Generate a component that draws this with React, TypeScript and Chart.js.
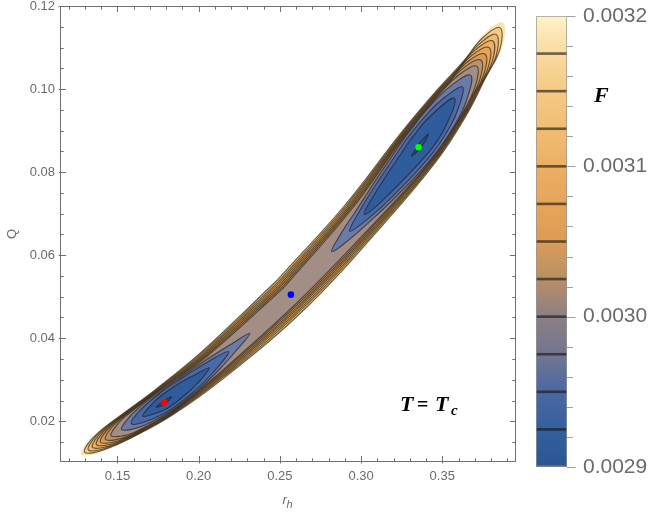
import React, { useEffect, useRef } from "react";
import { Chart, registerables } from "chart.js";

Chart.register(...registerables);

// ---------- axes ----------
const R_MIN = 0.1146;
const R_MAX = 0.3954;
const Q_MIN = 0.0102;
const Q_MAX = 0.12;
const R_MAJOR = [0.15, 0.2, 0.25, 0.3, 0.35];
const R_MINOR = [0.12, 0.13, 0.14, 0.16, 0.17, 0.18, 0.19, 0.21, 0.22, 0.23, 0.24, 0.26, 0.27, 0.28, 0.29, 0.31, 0.32, 0.33, 0.34, 0.36, 0.37, 0.38, 0.39];
const Q_MAJOR = [0.02, 0.04, 0.06, 0.08, 0.1, 0.12];
const Q_MINOR = [0.015, 0.025, 0.03, 0.035, 0.045, 0.05, 0.055, 0.065, 0.07, 0.075, 0.085, 0.09, 0.095, 0.105, 0.11, 0.115];

// ---------- colour bar (free energy F) ----------
const F_MIN = 0.0029;
const F_MAX = 0.0032;
const F_TICKS = [0.0029, 0.003, 0.0031, 0.0032];
const F_MINOR = [0.00292, 0.00294, 0.00296, 0.00298, 0.00302, 0.00304, 0.00306, 0.00308, 0.00312, 0.00314, 0.00316, 0.00318];
const F_LEVELS = [0.002925, 0.00295, 0.002975, 0.003, 0.003025, 0.00305, 0.003075, 0.0031, 0.003125, 0.00315, 0.003175];
const F_STOP_VALUES = [0.0029, 0.002925, 0.00295, 0.002975, 0.003, 0.003025, 0.00305, 0.003075, 0.0031, 0.003125, 0.00315, 0.003175, 0.0032];
const F_STOP_COLORS = ["#2b5690", "#33609e", "#4b68a2", "#737690", "#8b7f82", "#b88f66", "#da9d56", "#e6a55a", "#ecaf64", "#f1bd73", "#f5ca85", "#f9da9e", "#fef3c8"];

// ---------- valley mid-line of the F landscape (r_h, Q) ----------
const SPINE_R = [0.1275, 0.14, 0.16, 0.1787, 0.2, 0.23, 0.2568, 0.28, 0.3, 0.32, 0.3354, 0.35, 0.365, 0.378, 0.3872];
const SPINE_Q = [0.012, 0.0151, 0.0198, 0.0246, 0.0307, 0.0406, 0.0505, 0.06, 0.0689, 0.0783, 0.086, 0.0936, 0.1019, 0.1095, 0.116];

// ---------- contour regions: [position along valley r_h, half width (1e-3 r_h)] ----------
const F_BELOW_0_003200 = [[0.1275, 0], [0.131, 3.1], [0.138, 5.5], [0.15, 7.5], [0.1787, 9.6], [0.21, 11.0], [0.2568, 12.8], [0.3, 13.2], [0.3354, 14.2], [0.355, 12.2], [0.372, 8.6], [0.382, 6.5], [0.3872, 0]];
const F_BELOW_0_003175 = [[0.1297, 0], [0.1332, 3.1], [0.1402, 5.5], [0.152, 7.3], [0.1787, 9.42], [0.21, 10.63], [0.2568, 12.27], [0.3, 12.78], [0.3354, 13.94], [0.355, 11.97], [0.37, 8.4], [0.38, 6.4], [0.3855, 0]];
const F_BELOW_0_003150 = [[0.132, 0], [0.1355, 3.1], [0.1425, 5.5], [0.1545, 7.2], [0.1787, 9.05], [0.21, 9.85], [0.2568, 11.15], [0.3, 11.9], [0.3354, 13.4], [0.355, 11.48], [0.3677, 8.5], [0.3777, 6.4], [0.3832, 0]];
const F_BELOW_0_003125 = [[0.1345, 0], [0.138, 3.1], [0.145, 5.5], [0.157, 7.1], [0.1787, 8.72], [0.21, 9.16], [0.2568, 10.16], [0.3, 11.12], [0.3354, 12.92], [0.355, 11.04], [0.3655, 8.6], [0.3755, 6.3], [0.381, 0]];
const F_BELOW_0_003100 = [[0.137, 0], [0.1405, 3.1], [0.1475, 5.5], [0.1595, 7.0], [0.1787, 8.39], [0.21, 8.47], [0.2568, 9.17], [0.3, 10.34], [0.3354, 12.44], [0.355, 10.61], [0.3632, 8.7], [0.3732, 6.2], [0.3787, 0]];
const F_BELOW_0_003075 = [[0.1395, 0], [0.143, 3.1], [0.15, 5.5], [0.162, 6.9], [0.1787, 8.06], [0.21, 7.78], [0.2568, 8.18], [0.3, 9.56], [0.3354, 11.96], [0.355, 10.17], [0.3607, 8.8], [0.3707, 6.2], [0.3762, 0]];
const F_BELOW_0_003050 = [[0.1425, 0], [0.146, 3.1], [0.153, 5.5], [0.165, 6.8], [0.1787, 7.73], [0.21, 7.09], [0.2568, 7.19], [0.3, 8.78], [0.3354, 11.48], [0.355, 9.74], [0.3582, 8.9], [0.3682, 6.1], [0.3737, 0]];
const F_BELOW_0_003025 = [[0.146, 0], [0.15, 3.1], [0.157, 5.5], [0.1787, 7.4], [0.21, 6.4], [0.2568, 6.2], [0.3, 8.0], [0.3354, 11.0], [0.355, 9.3], [0.3655, 6.0], [0.3712, 0]];
const SMALL_BH_BELOW_0_003000 = [[0.1525, 0], [0.157, 3.1], [0.165, 5.5], [0.1787, 6.8], [0.195, 6.3], [0.21, 4.7], [0.222, 2.4], [0.2315, 0]];
const LARGE_BH_BELOW_0_003000 = [[0.2819, 0], [0.29, 3.1], [0.3, 5.2], [0.315, 8.0], [0.3354, 10.5], [0.35, 9.6], [0.36, 6.5], [0.3675, 0]];
const SMALL_BH_BELOW_0_002975 = [[0.1585, 0], [0.165, 3.6], [0.1787, 6.0], [0.195, 5.4], [0.207, 3.6], [0.2185, 0]];
const LARGE_BH_BELOW_0_002975 = [[0.293, 0], [0.302, 3.6], [0.315, 6.4], [0.3354, 9.0], [0.348, 8.0], [0.356, 5.2], [0.3625, 0]];
const SMALL_BH_BELOW_0_002950 = [[0.1655, 0], [0.171, 2.6], [0.1787, 4.3], [0.19, 4.0], [0.199, 2.4], [0.2065, 0]];
const LARGE_BH_BELOW_0_002950 = [[0.302, 0], [0.312, 3.4], [0.3354, 6.8], [0.347, 5.8], [0.3575, 0]];
const SMALL_BH_BELOW_0_002925 = [[0.174, 0], [0.1787, 1.0], [0.1833, 0]];
const LARGE_BH_BELOW_0_002925 = [[0.3311, 0], [0.3362, 1.2], [0.3414, 0]];

// ---------- marked states ----------
const MARK_R = [0.1787, 0.2568, 0.3354];
const MARK_Q = [0.0246, 0.0505, 0.086];
const MARK_COLORS = ["#ff0000", "#0000ff", "#00ff00"];

// ---------- styles ----------
const SANS = "'Liberation Sans', Arial, sans-serif";
const SERIF = "'Liberation Serif', 'Times New Roman', serif";
const TEXT_GRAY = "#6b6b6b";
const FRAME_GRAY = "#707070";
const CONTOUR_LINE = "rgba(35,28,20,0.68)";

const REGIONS = [
  { pairs: F_BELOW_0_003200, fill: "#fbe3ae", stroke: false },
  { pairs: F_BELOW_0_003175, fill: "#f5cb88", stroke: true },
  { pairs: F_BELOW_0_003150, fill: "#f0bc72", stroke: true },
  { pairs: F_BELOW_0_003125, fill: "#eaaf62", stroke: true },
  { pairs: F_BELOW_0_003100, fill: "#e3a558", stroke: true },
  { pairs: F_BELOW_0_003075, fill: "#d39c5a", stroke: true },
  { pairs: F_BELOW_0_003050, fill: "#b8946b", stroke: true },
  { pairs: F_BELOW_0_003025, fill: "#a28e84", stroke: true },
  { pairs: SMALL_BH_BELOW_0_003000, fill: "#6b7ba7", stroke: true },
  { pairs: LARGE_BH_BELOW_0_003000, fill: "#6b7ba7", stroke: true },
  { pairs: SMALL_BH_BELOW_0_002975, fill: "#4a69a9", stroke: true },
  { pairs: LARGE_BH_BELOW_0_002975, fill: "#4a69a9", stroke: true },
  { pairs: SMALL_BH_BELOW_0_002950, fill: "#2f5c9c", stroke: true },
  { pairs: LARGE_BH_BELOW_0_002950, fill: "#2f5c9c", stroke: true },
  { pairs: SMALL_BH_BELOW_0_002925, fill: "#2a4f86", stroke: true },
  { pairs: LARGE_BH_BELOW_0_002925, fill: "#2a4f86", stroke: true },
];

// square plot area: iso scale factor between Q and r_h
const ASP = (R_MAX - R_MIN) / (Q_MAX - Q_MIN);

function spineQ(s: number) {
  const n = SPINE_R.length;
  let i = 0;
  if (s >= SPINE_R[n - 1]) i = n - 2;
  else if (s > SPINE_R[0]) {
    while (SPINE_R[i + 1] < s) i++;
  }
  const t = (s - SPINE_R[i]) / (SPINE_R[i + 1] - SPINE_R[i]);
  return SPINE_Q[i] + t * (SPINE_Q[i + 1] - SPINE_Q[i]);
}

function buildOutline(pairs: number[][]) {
  const up: any[] = [];
  const lo: any[] = [];
  const d = 0.005;
  for (const [s, wm] of pairs) {
    const w = wm / 1000;
    const du = 2 * d;
    const dv = (spineQ(s + d) - spineQ(s - d)) * ASP;
    const len = Math.hypot(du, dv);
    const nx = -dv / len;
    const ny = du / len;
    const v = spineQ(s) * ASP;
    up.push({ x: s + w * nx, y: (v + w * ny) / ASP });
    lo.push({ x: s - w * nx, y: (v - w * ny) / ASP });
  }
  const n = pairs.length;
  const mid = Math.floor(n / 2);
  const pts: any[] = [];
  for (let i = mid; i < n; i++) pts.push(up[i]);
  for (let i = n - 2; i >= 1; i--) pts.push(lo[i]);
  for (let i = 0; i <= mid; i++) pts.push(up[i]);
  return pts;
}

const framePlugin = {
  id: "frameAndText",
  afterDraw(chart: any) {
    const { ctx, chartArea: a, scales } = chart;
    const x = scales.x;
    const y = scales.y;
    ctx.save();
    ctx.strokeStyle = FRAME_GRAY;
    ctx.lineWidth = 1;
    const L = Math.round(a.left) + 0.5;
    const R = Math.round(a.right) - 0.5;
    const T = Math.round(a.top) + 0.5;
    const B = Math.round(a.bottom) - 0.5;
    ctx.strokeRect(L, T, R - L, B - T);
    ctx.beginPath();
    const xt = (v: number, major: boolean) => {
      const px = Math.round(x.getPixelForValue(v)) + 0.5;
      const len = major ? 5.5 : 3.2;
      ctx.moveTo(px, B + (major ? 2 : 0));
      ctx.lineTo(px, B - len);
      ctx.moveTo(px, T);
      ctx.lineTo(px, T + len);
    };
    const yt = (v: number, major: boolean) => {
      const py = Math.round(y.getPixelForValue(v)) + 0.5;
      const len = major ? 5.5 : 3.2;
      ctx.moveTo(L - (major ? 2 : 0), py);
      ctx.lineTo(L + len, py);
      ctx.moveTo(R, py);
      ctx.lineTo(R - len, py);
    };
    R_MAJOR.forEach((v) => xt(v, true));
    R_MINOR.forEach((v) => xt(v, false));
    Q_MAJOR.forEach((v) => yt(v, true));
    Q_MINOR.forEach((v) => yt(v, false));
    ctx.stroke();

    // axis titles
    ctx.fillStyle = TEXT_GRAY;
    ctx.save();
    ctx.translate(12, (a.top + a.bottom) / 2);
    ctx.rotate(-Math.PI / 2);
    ctx.font = `13px ${SANS}`;
    ctx.textAlign = "center";
    ctx.textBaseline = "middle";
    ctx.fillText("Q", 0, 0);
    ctx.restore();

    const cx = (a.left + a.right) / 2;
    ctx.textAlign = "left";
    ctx.textBaseline = "alphabetic";
    ctx.font = `italic 13px ${SANS}`;
    ctx.fillText("r", cx - 5.5, 503.5);
    ctx.font = `italic 11px ${SANS}`;
    ctx.fillText("h", cx - 1.5, 508);

    // annotation T = T_c
    const ax = x.getPixelForValue(0.324);
    const ay = y.getPixelForValue(0.02255);
    ctx.fillStyle = "#000";
    ctx.font = `bold italic 22px ${SERIF}`;
    ctx.fillText("T", ax, ay);
    ctx.font = `bold 20px ${SERIF}`;
    ctx.fillText("=", ax + 17, ay);
    ctx.font = `bold italic 22px ${SERIF}`;
    ctx.fillText("T", ax + 35, ay);
    ctx.font = `bold italic 15px ${SERIF}`;
    ctx.fillText("c", ax + 51, ay + 4);
    ctx.restore();
  },
};

const colorbarPlugin = {
  id: "colorbar",
  afterDraw(chart: any) {
    const { ctx, chartArea: a, scales } = chart;
    const y = scales.y;
    const top = y.getPixelForValue(F_MAX);
    const bot = y.getPixelForValue(F_MIN);
    ctx.save();
    const g = ctx.createLinearGradient(0, bot, 0, top);
    F_STOP_VALUES.forEach((v, i) => g.addColorStop((v - F_MIN) / (F_MAX - F_MIN), F_STOP_COLORS[i]));
    ctx.fillStyle = g;
    ctx.fillRect(a.left, top, a.right - a.left, bot - top);
    ctx.fillStyle = "rgba(25,20,15,0.62)";
    F_LEVELS.forEach((v) => {
      const py = y.getPixelForValue(v);
      ctx.fillRect(a.left, py - 1.3, a.right - a.left, 2.6);
    });
    ctx.strokeStyle = "rgba(150,150,150,0.7)";
    ctx.lineWidth = 1;
    ctx.strokeRect(a.left + 0.5, top + 0.5, a.right - a.left - 1, bot - top - 1);
    ctx.fillStyle = "#808080";
    ctx.fillRect(a.left, bot - 1.5, a.right - a.left, 1.5);
    ctx.strokeStyle = "#a0a0a0";
    ctx.beginPath();
    F_MINOR.forEach((v) => {
      const py = Math.round(y.getPixelForValue(v)) + 0.5;
      ctx.moveTo(a.right, py);
      ctx.lineTo(a.right + 6, py);
    });
    F_TICKS.forEach((v) => {
      const py = Math.round(y.getPixelForValue(v)) + 0.5;
      ctx.moveTo(a.right, py);
      ctx.lineTo(a.right + 8.5, py);
    });
    ctx.stroke();
    ctx.fillStyle = "#000";
    ctx.font = `bold italic 22px ${SERIF}`;
    ctx.textAlign = "left";
    ctx.textBaseline = "alphabetic";
    ctx.fillText("F", 74, 101.5);
    ctx.restore();
  },
};

export default function App() {
  const mainRef = useRef<HTMLCanvasElement>(null);
  const barRef = useRef<HTMLCanvasElement>(null);

  useEffect(() => {
    document.body.style.margin = "0";
    const datasets: any[] = [];
    REGIONS.forEach((reg, i) => {
      datasets.push({
        type: "line",
        data: buildOutline(reg.pairs),
        borderColor: reg.stroke ? CONTOUR_LINE : "rgba(0,0,0,0)",
        borderWidth: reg.stroke ? 1.1 : 0,
        backgroundColor: reg.fill,
        fill: "shape",
        pointRadius: 0,
        tension: 0.4,
        order: 100 - i,
      });
    });
    MARK_R.forEach((r, i) => {
      datasets.push({
        type: "line",
        data: [{ x: r, y: MARK_Q[i] }],
        showLine: false,
        pointRadius: 3.3,
        pointBackgroundColor: MARK_COLORS[i],
        pointBorderWidth: 0,
        order: -1,
      });
    });

    const main = new Chart(mainRef.current as HTMLCanvasElement, {
      type: "line",
      data: { datasets },
      options: {
        responsive: false,
        animation: false,
        events: [],
        layout: { padding: { top: 6, right: 136, left: 0, bottom: 0 } },
        plugins: { legend: { display: false }, tooltip: { enabled: false } },
        scales: {
          x: {
            type: "linear",
            min: R_MIN,
            max: R_MAX,
            position: "bottom",
            grid: { display: false, drawTicks: false },
            border: { display: false },
            afterBuildTicks: (s: any) => {
              s.ticks = R_MAJOR.map((v) => ({ value: v }));
            },
            ticks: {
              font: { family: SANS, size: 13 },
              color: TEXT_GRAY,
              padding: 7,
              maxRotation: 0,
              autoSkip: false,
              callback: (v: any) => Number(v).toFixed(2),
            },
            afterFit: (s: any) => {
              s.height = 52;
              s.paddingLeft = 0;
              s.paddingRight = 0;
            },
          },
          y: {
            type: "linear",
            min: Q_MIN,
            max: Q_MAX,
            position: "left",
            grid: { display: false, drawTicks: false },
            border: { display: false },
            afterBuildTicks: (s: any) => {
              s.ticks = Q_MAJOR.map((v) => ({ value: v }));
            },
            ticks: {
              font: { family: SANS, size: 13 },
              color: TEXT_GRAY,
              padding: 5,
              autoSkip: false,
              callback: (v: any) => Number(v).toFixed(2),
            },
            afterFit: (s: any) => {
              s.width = 60;
              s.paddingTop = 0;
              s.paddingBottom = 0;
            },
          },
        },
      } as any,
      plugins: [framePlugin],
    });

    const bar = new Chart(barRef.current as HTMLCanvasElement, {
      type: "line",
      data: { datasets: [] },
      options: {
        responsive: false,
        animation: false,
        events: [],
        layout: { padding: { top: 16, right: 0, left: 16, bottom: 47 } },
        plugins: { legend: { display: false }, tooltip: { enabled: false } },
        scales: {
          x: { type: "linear", display: false, min: 0, max: 1 },
          y: {
            type: "linear",
            min: F_MIN,
            max: F_MAX,
            position: "right",
            grid: { display: false, drawTicks: false },
            border: { display: false },
            afterBuildTicks: (s: any) => {
              s.ticks = F_TICKS.map((v) => ({ value: v }));
            },
            ticks: {
              font: { family: SANS, size: 21 },
              color: TEXT_GRAY,
              padding: 16,
              autoSkip: false,
              callback: (v: any) => Number(v).toFixed(4),
            },
            afterFit: (s: any) => {
              s.width = 85;
              s.paddingTop = 0;
              s.paddingBottom = 0;
            },
          },
        },
      } as any,
      plugins: [colorbarPlugin],
    });

    return () => {
      main.destroy();
      bar.destroy();
    };
  }, []);

  return (
    <div style={{ position: "relative", width: 652, height: 514, background: "#fff" }}>
      <canvas ref={mainRef} width={652} height={514} style={{ position: "absolute", left: 0, top: 0, width: 652, height: 514 }} />
      <canvas ref={barRef} width={132} height={514} style={{ position: "absolute", left: 520, top: 0, width: 132, height: 514 }} />
    </div>
  );
}
